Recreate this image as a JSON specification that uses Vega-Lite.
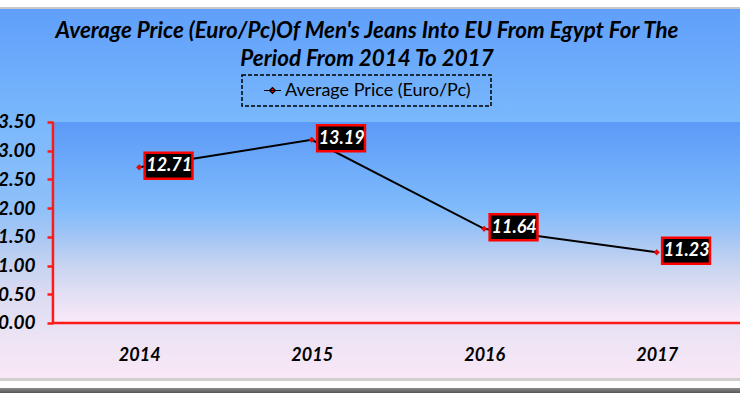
{
  "$schema": "https://vega.github.io/schema/vega-lite/v6.json",
  "width": 740,
  "height": 393,
  "autosize": "none",
  "padding": 0,
  "background": "white",
  "config": {
    "view": {"stroke": null},
    "axisX": {"title": null, "domain": false, "ticks": false, "grid": false, "labelPadding": 23, "labelFont": "Lato", "labelFontSize": 18,
      "labelFontWeight": "bold", "labelFontStyle": "italic", "labelColor": "black", "labelFlush": false, "labelOverlap": false},
    "axisY": {"title": null, "domain": false, "ticks": true, "tickColor": "#ff1a1a", "tickWidth": 2.5, "tickSize": 6, "grid": false,
      "labelPadding": 12, "labelFont": "Lato", "labelFontSize": 19, "labelFontWeight": "bold", "labelFontStyle": "italic",
      "labelColor": "black", "labelFlush": false, "labelOverlap": false},
    "legend": {"strokeDash": [4, 2], "strokeWidth": 1.5}
  },
  "title": {
    "text": ["Average Price (Euro/Pc)Of Men's Jeans Into EU From Egypt For The", "Period From 2014 To 2017"],
    "font": "Lato", "fontSize": 22.4, "fontWeight": "bold", "fontStyle": "italic",
    "color": "black", "lineHeight": 28, "anchor": "middle", "frame": "group", "offset": -70, "dx": -3
  },
  "data": {"values": [
    {"year": 2014, "price": 12.71, "series": "Average Price (Euro/Pc)"},
    {"year": 2015, "price": 13.19, "series": "Average Price (Euro/Pc)"},
    {"year": 2016, "price": 11.64, "series": "Average Price (Euro/Pc)"},
    {"year": 2017, "price": 11.23, "series": "Average Price (Euro/Pc)"}
  ]},
  "layer": [
    {
      "data": {"values": [{}]},
      "mark": {"type": "rect", "fill": {"gradient": "linear", "x1": 0, "y1": 0, "x2": 0, "y2": 1, "stops": [
        {"offset": 0, "color": "#ffffff"},
        {"offset": 0.018, "color": "#ffffff"},
        {"offset": 0.0181, "color": "#c8c8c8"},
        {"offset": 0.022, "color": "#c8c8c8"},
        {"offset": 0.0221, "color": "#5f9ffa"},
        {"offset": 0.31, "color": "#7ab8fc"},
        {"offset": 0.53, "color": "#8fc0f9"},
        {"offset": 0.6, "color": "#a8c7f4"},
        {"offset": 0.67, "color": "#c4d2f0"},
        {"offset": 0.75, "color": "#dcdbf2"},
        {"offset": 0.85, "color": "#ebe3f4"},
        {"offset": 0.963, "color": "#fae8f6"},
        {"offset": 0.9631, "color": "#cfcfcf"},
        {"offset": 0.969, "color": "#cfcfcf"},
        {"offset": 0.9691, "color": "#ffffff"},
        {"offset": 0.988, "color": "#ffffff"},
        {"offset": 0.9881, "color": "#888888"},
        {"offset": 1, "color": "#555555"}
      ]}},
      "encoding": {
        "x": {"datum": 2013.193, "type": "quantitative", "scale": {"domain": [2013.193, 2017.483], "nice": false, "zero": false},
          "axis": {"orient": "bottom", "offset": -70, "values": [2014, 2015, 2016, 2017], "format": "d", "zindex": 1}},
        "x2": {"datum": 2017.483},
        "y": {"datum": 8.781, "type": "quantitative", "scale": {"domain": [8.781, 15.624], "nice": false, "zero": false},
          "axis": {"orient": "left", "offset": -53, "values": [10, 10.5, 11, 11.5, 12, 12.5, 13, 13.5], "format": ".2f", "zindex": 1}},
        "y2": {"datum": 15.624}
      }
    },
    {
      "data": {"values": [{}]},
      "mark": {"type": "rect", "fill": {"gradient": "linear", "x1": 0, "y1": 0, "x2": 0, "y2": 1, "stops": [
        {"offset": 0, "color": "#5b9af8"},
        {"offset": 0.43, "color": "#80bbfb"},
        {"offset": 0.57, "color": "#a2c5f5"},
        {"offset": 0.71, "color": "#c6d4f0"},
        {"offset": 0.85, "color": "#e2dff4"},
        {"offset": 1, "color": "#fae9f7"}
      ]}},
      "encoding": {
        "x": {"datum": 2013.5, "type": "quantitative"},
        "x2": {"datum": 2017.5},
        "y": {"datum": 10, "type": "quantitative"},
        "y2": {"datum": 13.5}
      }
    },
    {
      "data": {"values": [{}]},
      "mark": {"type": "rule", "color": "#ff1a1a", "strokeWidth": 2.5},
      "encoding": {
        "x": {"datum": 2013.5, "type": "quantitative"},
        "y": {"datum": 10, "type": "quantitative"},
        "y2": {"datum": 13.5}
      }
    },
    {
      "data": {"values": [{}]},
      "mark": {"type": "rule", "color": "#ff1a1a", "strokeWidth": 2.5},
      "encoding": {
        "x": {"datum": 2013.5, "type": "quantitative"},
        "x2": {"datum": 2017.5},
        "y": {"datum": 10, "type": "quantitative"}
      }
    },
    {
      "mark": {"type": "line", "color": "black", "strokeWidth": 2},
      "encoding": {
        "x": {"field": "year", "type": "quantitative"},
        "y": {"field": "price", "type": "quantitative"}
      }
    },
    {
      "mark": {"type": "point", "shape": "diamond", "filled": true, "size": 30, "opacity": 1, "stroke": "#b00000", "strokeWidth": 0.5},
      "encoding": {
        "x": {"field": "year", "type": "quantitative"},
        "y": {"field": "price", "type": "quantitative"},
        "color": {"field": "series", "type": "nominal", "scale": {"range": ["#ff0000"]},
          "legend": {"title": "\u00a0", "titleOrient": "right", "titlePadding": 14, "titleFontSize": 10,
            "orient": "none", "legendX": 242, "legendY": 75, "padding": 6,
            "strokeColor": "black",
            "symbolType": "M-1,0H1M-0.35,0L0,-0.35L0.35,0L0,0.35Z", "symbolSize": 289,
            "symbolStrokeColor": "black", "symbolStrokeWidth": 1.2, "symbolOffset": 15,
            "labelFont": "Lato", "labelFontSize": 18, "labelColor": "black", "labelOffset": 3, "labelLimit": 400}}
      }
    },
    {
      "mark": {"type": "point", "shape": "M0.21,-0.56H2.05V0.44H0.21Z", "size": 2700, "filled": true,
        "fill": "black", "stroke": "#ff0000", "strokeWidth": 2.5, "opacity": 1},
      "encoding": {
        "x": {"field": "year", "type": "quantitative"},
        "y": {"field": "price", "type": "quantitative"}
      }
    },
    {
      "mark": {"type": "text", "color": "white", "font": "Lato", "fontSize": 18, "fontWeight": "bold", "fontStyle": "italic",
        "align": "center", "baseline": "middle", "dx": 30, "dy": -1},
      "encoding": {
        "x": {"field": "year", "type": "quantitative"},
        "y": {"field": "price", "type": "quantitative"},
        "text": {"field": "price", "type": "quantitative", "format": ".2f"}
      }
    }
  ]
}
